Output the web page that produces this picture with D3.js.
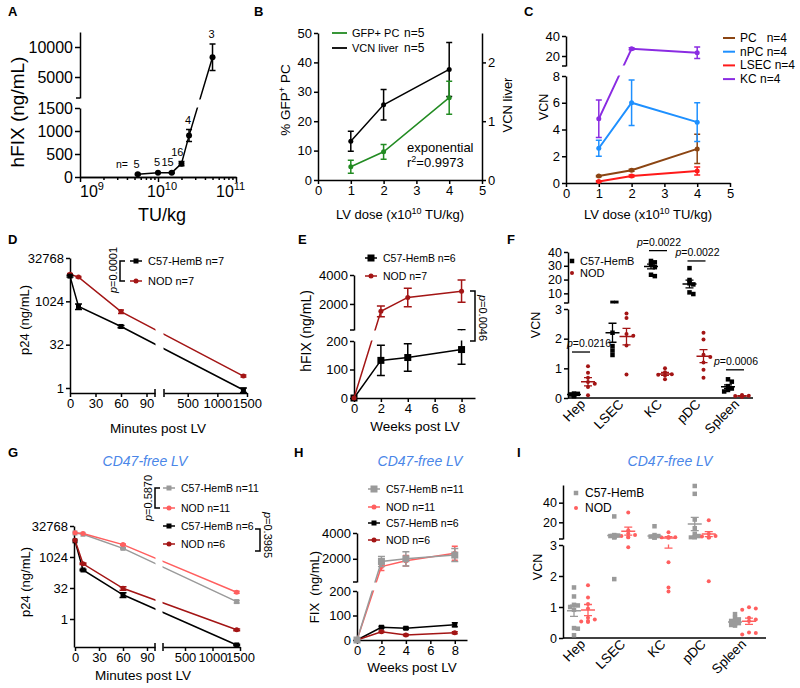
<!DOCTYPE html>
<html lang="en">
<head>
<meta charset="utf-8">
<title>LV figure</title>
<script src="https://d3js.org/d3.v7.min.js"></script>
<style>
  body { margin: 0; background: #fff; }
</style>
</head>
<body>
<div id="fig"></div>
<script>

// ================= DATA =================
// A - dose response
var aDose = [5.5e9, 1e10, 1.5e10, 2e10, 2.5e10, 5e10];
var aFIX = [60, 90, 95, 290, 900, 8300];
var aSem = [15, 10, 15, 45, 130, 2200];
var aN = ["5", "5", "15", "16", "4", "3"];
var aTicksLow = [0, 500, 1000, 1500];
var aTicksHigh = [5000, 10000];

// B - GFP+ PC and VCN liver
var bDose = [1, 2, 4];
var bGFP = [4.5, 9.6, 28], bGFPSem = [2.2, 2.5, 5.6];
var bVCN = [0.66, 1.28, 1.88], bVCNSem = [0.17, 0.26, 0.46];

// C - VCN by cell type
var cDose = [1, 2, 4];
var cNames = ["PC   n=4", "nPC n=4", "LSEC n=4", "KC n=4"];
var cPC = [0.52, 0.95, 2.55], cPCSem = [0.05, 0.08, 1.1];
var cNPC = [2.6, 6.0, 4.55], cNPCSem = [0.6, 1.7, 1.45];
var cLSEC = [0.12, 0.52, 0.9], cLSECSem = [0.05, 0.08, 0.3];
var cKC = [4.8, 27.3, 23.3], cKCSem = [1.4, 1.0, 5.8];

// D - p24 clearance
var dMinutes = [0, 10, 60, 1440];
var dC57 = [7700, 680, 137, 0.85], dC57Sem = [600, 150, 12, 0.15];
var dNOD = [8900, 7100, 450, 2.6], dNODSem = [500, 400, 60, 0.2];

// E - hFIX over weeks
var eWeeks = [0, 2, 4, 8];
var eC57 = [0, 132, 142, 170], eC57Sem = [0, 53, 48, 52];
var eNOD = [0, 1490, 2450, 2880], eNODSem = [0, 370, 640, 770];

// F - VCN per organ
var fCats = ["Hep", "LSEC", "KC", "pDC", "Spleen"];
var fC57 = [
  [0.06, 0.08, 0.1, 0.12, 0.14, 0.15],
  [3.1, 3.1, 2.2, 1.75, 1.6, 1.45],
  [33.5, 32.5, 31, 29, 23.5, 22.5],
  [28.3, 19.7, 17.3, 16.5, 10.7, 9.5],
  [0.63, 0.55, 0.4, 0.32, 0.27, 0.22]
];
var fNOD = [
  [1.07, 0.85, 0.68, 0.54, 0.48, 0.37, 0.09],
  [2.85, 2.7, 2.16, 2.1, 1.77, 0.79],
  [1.0, 0.87, 0.8, 0.78, 0.76, 0.63],
  [2.2, 1.97, 1.46, 1.38, 1.2, 0.95, 0.68],
  [0.1, 0.08, 0.07, 0.06, 0.05, 0.04]
];
var fC57Mean = [0.12, 2.2, 29.5, 16.8, 0.38], fC57Sem = [0.02, 0.32, 1.7, 2.8, 0.06];
var fNODMean = [0.55, 2.07, 0.81, 1.41, 0.07], fNODSem = [0.14, 0.28, 0.05, 0.22, 0.01];
var fSig = [["Hep", "0.0216", 1.55], ["KC", "0.0022", 41], ["pDC", "0.0022", 33.5], ["Spleen", "0.0006", 0.95]];

// G - p24 clearance, CD47-free LV
var gMinutes = [0, 10, 60, 1440];
var gC57a = [15000, 13000, 2700, 7], gC57aSem = [0, 0, 200, 1];
var gNODa = [15500, 14000, 4100, 20], gNODaSem = [0, 0, 300, 2];
var gC57b = [6200, 240, 15, 0.055], gC57bSem = [0, 20, 4, 0.005];
var gNODb = [6600, 480, 31, 0.3], gNODbSem = [0, 40, 6, 0.03];

// H - FIX over weeks, CD47-free LV
var hWeeks = [0, 2, 4, 8];
var hC57a = [0, 1790, 2000, 2290], hC57aSem = [0, 380, 550, 500];
var hNODa = [0, 1400, 1850, 2430], hNODaSem = [0, 300, 400, 550];
var hC57b = [0, 52, 48, 62], hC57bSem = [0, 4, 4, 8];
var hNODb = [0, 34, 20, 30], hNODbSem = [0, 3, 3, 4];

// I - VCN per organ, CD47-free LV
var iCats = ["Hep", "LSEC", "KC", "pDC", "Spleen"];
var iC57 = [
  [1.63, 1.34, 1.07, 1.05, 1.0, 0.91, 0.32, 0.3, 0.09],
  [26, 7, 6.5, 6, 5.5, 5, 4.5, 4, 1.9],
  [16, 7, 6, 5.5, 5, 4.5, 4, 3.8, 3.5],
  [57, 49, 22.8, 14, 8.3, 6, 5, 4.5, 4],
  [0.77, 0.65, 0.6, 0.55, 0.5, 0.48, 0.45, 0.42, 0.4]
];
var iNOD = [
  [1.7, 1.31, 1.1, 0.95, 0.65, 0.6, 0.55, 0.53, 0.52],
  [30, 12, 8.5, 7, 6, 5, 4.5, 2.93],
  [10, 5, 4.8, 4.5, 3.2, 2.44, 1.63, 1.5],
  [22, 8.3, 6, 5.5, 5, 4.5, 4, 1.83],
  [0.99, 0.95, 0.91, 0.65, 0.6, 0.55, 0.18, 0.16, 0.11]
];
var iC57Mean = [0.88, 6.5, 6, 18.3, 0.52], iC57Sem = [0.18, 1.2, 1.0, 6.8, 0.04];
var iNODMean = [0.9, 11, 4.1, 8, 0.54], iNODSem = [0.18, 4, 1.2, 2.5, 0.1];

// ================= HELPERS =================
var FONT = "'Liberation Sans', Arial, Helvetica, sans-serif";
var NODRED = "#a31515", GRAY = "#9a9a9a", PINK = "#ff5f5f", BLUE = "#4a86e8";

var svg = d3.select("#fig").append("svg")
  .attr("width", 800).attr("height", 688)
  .attr("font-family", FONT);
svg.append("rect").attr("width", 800).attr("height", 688).attr("fill", "#fff");
var defs = svg.append("defs");

function text(x, y, s, size, o) {
  o = o || {};
  var t = svg.append("text").attr("font-size", size)
    .attr("text-anchor", o.anchor || "start")
    .attr("fill", o.color || "#000")
    .attr("transform", "translate(" + x + "," + y + ")" + (o.rotate ? " rotate(" + o.rotate + ")" : ""))
    .text(s);
  if (o.bold) t.attr("font-weight", "bold");
  if (o.italic) t.attr("font-style", "italic");
  if (o.pre) t.style("white-space", "pre");
  return t;
}

function pText(x, y, val, size, rot, anchor) {
  var t = svg.append("text").attr("font-size", size).attr("text-anchor", anchor || "middle")
    .attr("transform", "translate(" + x + "," + y + ")" + (rot ? " rotate(" + rot + ")" : ""));
  t.append("tspan").attr("font-style", "italic").text("p");
  t.append("tspan").text("=" + val);
}

function axis(kind, pos, scale, ticks, size, tick) {
  var gen = kind === "left" ? d3.axisLeft(scale) : kind === "right" ? d3.axisRight(scale) : d3.axisBottom(scale);
  gen.tickValues(ticks).tickSizeInner(tick === undefined ? 4 : tick).tickSizeOuter(0).tickPadding(2)
    .tickFormat(function (d) { return d; });
  var g = svg.append("g")
    .attr("transform", kind === "bottom" ? "translate(0," + pos + ")" : "translate(" + pos + ",0)")
    .call(gen);
  g.attr("font-family", FONT).attr("font-size", size);
  g.selectAll(".domain, .tick line").attr("stroke", "#000").attr("stroke-width", 1.5);
  g.selectAll(".tick text").attr("fill", "#000");
  return g;
}

function path(d, color, w) {
  return svg.append("path").attr("d", d).attr("fill", "none").attr("stroke", color || "#000").attr("stroke-width", w || 1.5);
}

// piecewise scale for a broken axis: values up to the cut use lo, others hi
function broken(lo, hi) {
  var cut = lo.domain()[1];
  return function (v) { return v <= cut ? lo(v) : hi(v); };
}

function clip(id, rects) {
  var cp = defs.append("clipPath").attr("id", id);
  rects.forEach(function (r) {
    cp.append("rect").attr("x", r[0]).attr("y", r[1]).attr("width", r[2]).attr("height", r[3]);
  });
  return svg.append("g").attr("clip-path", "url(#" + id + ")");
}

function marker(g, x, y, shape, size, color) {
  if (shape === "sq") {
    g.append("rect").attr("x", x - size / 2).attr("y", y - size / 2)
      .attr("width", size).attr("height", size).attr("fill", color);
  } else {
    g.append("circle").attr("cx", x).attr("cy", y).attr("r", size / 2).attr("fill", color);
  }
}

function errBar(g, px, y1, y2, cap, color, w) {
  g.append("path")
    .attr("d", "M" + px + "," + y1 + "V" + y2 + "M" + (px - cap) + "," + y1 + "H" + (px + cap) +
      "M" + (px - cap) + "," + y2 + "H" + (px + cap))
    .attr("fill", "none").attr("stroke", color).attr("stroke-width", w || 1.5);
}

function series(g, xs, ys, es, sx, sy, o) {
  var pts = xs.map(function (x, i) { return [sx(x), sy(ys[i])]; });
  g.append("path").attr("d", d3.line()(pts)).attr("fill", "none")
    .attr("stroke", o.color).attr("stroke-width", o.width || 1.5);
  if (es) xs.forEach(function (x, i) {
    if (!es[i]) return;
    errBar(g, sx(x), sy(ys[i] - es[i]), sy(ys[i] + es[i]), o.cap || 3, o.color, o.ewidth || 1.5);
  });
  pts.forEach(function (p) { marker(g, p[0], p[1], o.shape, o.size, o.color); });
}

function legendRow(x, y, color, shape, size, label, fs, len) {
  len = len || 12;
  path("M" + x + "," + y + "H" + (x + len), color, 1.5);
  marker(svg, x + len / 2, y, shape, size, color);
  text(x + len + 6, y + 4, label, fs, { pre: true });
}

// column scatter: nudge points sideways a little when they would sit on top of each other
function swarm(g, cx, vals, sy, shape, size, color) {
  var placed = [], step = size * 0.85;
  vals.slice().sort(d3.descending).forEach(function (v) {
    var y = sy(v), x = cx;
    for (var k = 0; k <= 4; k++) {
      x = cx + (k === 0 ? 0 : (k % 2 ? 1 : -1) * Math.ceil(k / 2) * step);
      var hit = placed.some(function (p) { return Math.abs(p[0] - x) < step && Math.abs(p[1] - y) < size * 0.7; });
      if (!hit) break;
      if (k === 4) x = cx;
    }
    placed.push([x, y]);
    marker(g, x, y, shape, size, color);
  });
}

function meanSem(g, cx, m, s, sy, color) {
  g.append("path").attr("d", "M" + (cx - 7) + "," + sy(m) + "H" + (cx + 7))
    .attr("stroke", color).attr("stroke-width", 1.5);
  errBar(g, cx, sy(m - s), sy(m + s), 4, color, 1.3);
}

function title(x, y) {
  text(x, y, "CD47-free LV", 14, { anchor: "middle", italic: true, color: BLUE });
}

// ================= PANEL A =================
text(8, 16, "A", 13, { bold: true });
var aX = d3.scaleLog().domain([1e9, 1e11]).range([80, 236]);
var aLo = d3.scaleLinear().domain([0, 1500]).range([177, 108]);
var aHi = d3.scaleLinear().domain([1500, 12500]).range([98, 32]);
var aY = broken(aLo, aHi);
axis("left", 80, aLo, aTicksLow, 16, 5);
axis("left", 80, aHi, aTicksHigh, 16, 5);
path("M76,98H80");
axis("bottom", 177, aX, [1e9, 1e10, 1e11], 16, 5).selectAll(".tick text").remove();
var aMinor = [];
[1e9, 1e10].forEach(function (dec) { for (var k = 2; k < 10; k++) aMinor.push(k * dec); });
axis("bottom", 177, aX, aMinor, 10, 3).selectAll(".tick text").remove();
[1e9, 1e10, 1e11].forEach(function (v, i) {
  var t = svg.append("text").attr("x", aX(v) + [0, -11, -20][i]).attr("y", 197).attr("font-size", 16);
  t.append("tspan").text("10");
  t.append("tspan").attr("dy", -7).attr("font-size", 11).text(Math.round(Math.log10(v)));
});
text(162, 221, "TU/kg", 18, { anchor: "middle" });
text(24, 112, "hFIX (ng/mL)", 19, { anchor: "middle", rotate: -90 });
var aG = clip("clipA", [[60, 0, 200, 99.5], [60, 107.5, 200, 80]]);
series(aG, aDose, aFIX, aSem, aX, aY, { color: "#000", shape: "c", size: 6, cap: 3 });
text(116, 168, "n=", 10.5);
aDose.forEach(function (d, i) {
  text(aX(d) + 2, aY(aFIX[i] + aSem[i]) - 6, aN[i], 11, { anchor: "end" });
});

// ================= PANEL B =================
text(254, 16, "B", 13, { bold: true });
var bX = d3.scaleLinear().domain([0, 5]).range([318, 482]);
var bYL = d3.scaleLinear().domain([0, 50]).range([180, 33]);
var bYR = d3.scaleLinear().domain([0, 2.5]).range([180, 33]);
axis("left", 318, bYL, [0, 10, 20, 30, 40, 50], 13);
axis("right", 482, bYR, [0, 1, 2], 13);
axis("bottom", 180, bX, [0, 1, 2, 3, 4, 5], 13);
var bG = svg.append("g");
series(bG, bDose, bVCN, bVCNSem, bX, bYR, { color: "#000", shape: "c", size: 5, cap: 3 });
series(bG, bDose, bGFP, bGFPSem, bX, bYL, { color: "#228b22", shape: "c", size: 5, cap: 3 });
path("M332,33H347", "#228b22", 1.8);
path("M332,48H347", "#000", 1.8);
text(352, 37, "GFP+ PC", 11);
text(404, 37, "n=5", 12);
text(352, 52, "VCN liver", 11);
text(404, 52, "n=5", 12);
text(407, 152, "exponential", 13);
var r2 = svg.append("text").attr("x", 407).attr("y", 167).attr("font-size", 13);
r2.append("tspan").text("r");
r2.append("tspan").attr("dy", -5).attr("font-size", 9).text("2");
r2.append("tspan").attr("dy", 5).text("=0.9973");
var bl = svg.append("text").attr("font-size", 13.5).attr("text-anchor", "middle")
  .attr("transform", "translate(290,100) rotate(-90)");
bl.append("tspan").text("% GFP");
bl.append("tspan").attr("dy", -5).attr("font-size", 9).text("+");
bl.append("tspan").attr("dy", 5).text(" PC");
text(512, 105, "VCN liver", 13, { anchor: "middle", rotate: -90 });
function doseLabel(cx) {
  var t = svg.append("text").attr("x", cx).attr("y", 219).attr("font-size", 13).attr("text-anchor", "middle");
  t.append("tspan").text("LV dose (x10");
  t.append("tspan").attr("dy", -5).attr("font-size", 9).text("10");
  t.append("tspan").attr("dy", 5).text(" TU/kg)");
}
doseLabel(400);

// ================= PANEL C =================
text(524, 16, "C", 13, { bold: true });
var cX = d3.scaleLinear().domain([0, 5]).range([566, 730]);
var cLo = d3.scaleLinear().domain([0, 8]).range([183, 76]);
var cHi = d3.scaleLinear().domain([10, 40]).range([66, 36]);
var cY = broken(cLo, cHi);
axis("left", 566, cLo, [0, 2, 4, 6, 8], 13);
axis("left", 566, cHi, [20, 40], 13);
path("M562,66H566");
axis("bottom", 183, cX, [0, 1, 2, 3, 4, 5], 13);
var cG = clip("clipC", [[550, 0, 250, 65.5], [550, 75.5, 250, 130]]);
var cSeries = [[cPC, cPCSem, "#8b4513"], [cNPC, cNPCSem, "#1e90ff"], [cLSEC, cLSECSem, "#ff1a1a"], [cKC, cKCSem, "#8a2be2"]];
cSeries.forEach(function (s, i) {
  series(cG, cDose, s[0], s[1], cX, cY, { color: s[2], shape: "c", size: 5, cap: 3, width: 2 });
  path("M723," + (38 + i * 13.7) + "H735", s[2], 2);
  text(740, 42 + i * 13.7, cNames[i], 12, { pre: true });
});
text(548, 107, "VCN", 12.5, { anchor: "middle", rotate: -90 });
doseLabel(648);

// ================= PANEL D =================
text(8, 244, "D", 13, { bold: true });
var dX1 = d3.scaleLinear().domain([0, 100]).range([70, 155]);
var dX2 = d3.scaleLinear().domain([100, 1500]).range([164, 247]);
var dX = broken(dX1, dX2);
var dY = d3.scaleLog().base(2).domain([0.67, 32768]).range([393, 258]);
axis("left", 70, dY, [1, 32, 1024, 32768], 13);
axis("bottom", 393, dX1, [0, 30, 60, 90], 13);
axis("bottom", 393, dX2, [500, 1000, 1500], 13);
path("M155,389V397M164,389V397");
var dG = clip("clipD", [[60, 240, 95.5, 200], [163.5, 240, 100, 200]]);
series(dG, dMinutes, dNOD, dNODSem, dX, dY, { color: NODRED, shape: "c", size: 5, cap: 3 });
series(dG, dMinutes, dC57, dC57Sem, dX, dY, { color: "#000", shape: "sq", size: 5, cap: 3.5 });
legendRow(130, 261, "#000", "sq", 5, "C57-HemB n=7", 11);
legendRow(130, 281, NODRED, "c", 5, "NOD n=7", 11);
path("M125,261H120V281H125");
pText(117, 270, "0.0001", 11, -90);
text(29, 320, "p24 (ng/mL)", 13, { anchor: "middle", rotate: -90 });
text(158, 433, "Minutes post LV", 13.5, { anchor: "middle" });

// ================= PANEL E =================
text(298, 244, "E", 13, { bold: true });
var eX = d3.scaleLinear().domain([0, 9]).range([354, 475]);
var eLo = d3.scaleLinear().domain([0, 200]).range([398, 341]);
var eHi = d3.scaleLinear().domain([200, 4000]).range([330, 275]);
var eY = broken(eLo, eHi);
axis("left", 354, eLo, [0, 100, 200], 13);
axis("left", 354, eHi, [2000, 4000], 13);
path("M350,330H354");
axis("bottom", 398, eX, [0, 2, 4, 6, 8], 13);
var eG = clip("clipE", [[340, 240, 190, 90.5], [340, 340.5, 190, 80]]);
series(eG, eWeeks, eC57, eC57Sem, eX, eY, { color: "#000", shape: "sq", size: 7, cap: 4 });
series(eG, eWeeks, eNOD, eNODSem, eX, eY, { color: NODRED, shape: "c", size: 5, cap: 4 });
legendRow(365, 258, "#000", "sq", 7, "C57-HemB n=6", 10.5);
legendRow(365, 276, NODRED, "c", 5, "NOD n=7", 10.5);
path("M470,291H475V341H470");
pText(479, 318, "0.0046", 11, 90);
text(311, 331, "hFIX (ng/mL)", 14, { anchor: "middle", rotate: -90 });
text(415, 431, "Weeks post LV", 13.5, { anchor: "middle" });

// ================= PANEL F =================
text(507, 244, "F", 13, { bold: true });
var fX = d3.scalePoint().domain(fCats).range([581, 735]);
var fLo = d3.scaleLinear().domain([0, 3]).range([398, 309]);
var fHi = d3.scaleLinear().domain([3, 40]).range([303, 252]);
var fY = broken(fLo, fHi);
axis("left", 568, fLo, [0, 1, 2, 3], 12.5);
axis("left", 568, fHi, [10, 20, 30, 40], 12.5);
path("M564,303H568");
path("M568,398H753");
fCats.forEach(function (c) {
  text(fX(c) + 5, 405, c, 13.5, { anchor: "end", rotate: -45 });
});
var fG = clip("clipF", [[560, 230, 240, 73.5], [560, 308.5, 240, 100]]);
fCats.forEach(function (c, i) {
  swarm(fG, fX(c) - 7, fC57[i], fY, "sq", 4.5, "#000");
  swarm(fG, fX(c) + 7, fNOD[i], fY, "c", 4, NODRED);
  meanSem(fG, fX(c) - 7, fC57Mean[i], fC57Sem[i], fY, "#000");
  meanSem(fG, fX(c) + 7, fNODMean[i], fNODSem[i], fY, NODRED);
});
fSig.forEach(function (s) {
  var cx = fX(s[0]), y = fY(s[2]);
  path("M" + (cx - 9) + "," + y + "H" + (cx + 9), "#000", 1.3);
  pText(Math.max(cx + 1, 589), y - 5, s[1], 10.5, 0);
});
marker(svg, 572, 261, "sq", 4.5, "#000");
marker(svg, 572, 273, "c", 4, NODRED);
text(580, 265, "C57-HemB", 11);
text(580, 277, "NOD", 11);
text(540, 325, "VCN", 12.5, { anchor: "middle", rotate: -90 });

// ================= PANEL G =================
text(8, 457, "G", 13, { bold: true });
title(145, 466);
var gX1 = d3.scaleLinear().domain([0, 100]).range([75, 155]);
var gX2 = d3.scaleLinear().domain([100, 1500]).range([163, 240]);
var gX = broken(gX1, gX2);
var gY = d3.scaleLog().base(2).domain([0.0437, 32768]).range([647, 526]);
axis("left", 74, gY, [1, 32, 1024, 32768], 13);
axis("bottom", 647, gX1, [0, 30, 60, 90], 13);
axis("bottom", 647, gX2, [500, 1000, 1500], 13);
path("M155,643V651M163,643V651");
var gG = clip("clipG", [[60, 500, 95.5, 160], [162.5, 500, 100, 160]]);
series(gG, gMinutes, gC57a, gC57aSem, gX, gY, { color: GRAY, shape: "sq", size: 5, cap: 3 });
series(gG, gMinutes, gNODa, gNODaSem, gX, gY, { color: PINK, shape: "c", size: 5, cap: 3 });
series(gG, gMinutes, gC57b, gC57bSem, gX, gY, { color: "#000", shape: "sq", size: 5, cap: 3.5 });
series(gG, gMinutes, gNODb, gNODbSem, gX, gY, { color: NODRED, shape: "c", size: 5, cap: 3.5 });
legendRow(163, 488, GRAY, "sq", 5, "C57-HemB n=11", 10.5);
legendRow(163, 508, PINK, "c", 5, "NOD n=11", 10.5);
legendRow(163, 526, "#000", "sq", 5, "C57-HemB n=6", 10.5);
legendRow(163, 544, NODRED, "c", 5, "NOD n=6", 10.5);
path("M160,488H155V508H160");
pText(152, 498, "0.5870", 11, -90);
path("M255,529H260V551H255");
pText(264, 535, "0.3985", 11, 90);
text(30, 582, "p24 (ng/mL)", 13, { anchor: "middle", rotate: -90 });
text(143, 680, "Minutes post LV", 13.5, { anchor: "middle" });

// ================= PANEL H =================
text(294, 457, "H", 13, { bold: true });
title(420, 466);
var hX = d3.scaleLinear().domain([0, 9]).range([357, 467]);
var hLo = d3.scaleLinear().domain([0, 200]).range([640, 591]);
var hHi = d3.scaleLinear().domain([200, 4000]).range([582, 533]);
var hY = broken(hLo, hHi);
axis("left", 357, hLo, [0, 100, 200], 13);
axis("left", 357, hHi, [2000, 4000], 13);
path("M353,582H357");
axis("bottom", 640, hX, [0, 2, 4, 6, 8], 13);
var hG = clip("clipH", [[340, 500, 190, 82.5], [340, 590.5, 190, 80]]);
series(hG, hWeeks, hC57b, hC57bSem, hX, hY, { color: "#000", shape: "sq", size: 5, cap: 3 });
series(hG, hWeeks, hNODb, hNODbSem, hX, hY, { color: NODRED, shape: "c", size: 5, cap: 3 });
series(hG, hWeeks, hNODa, hNODaSem, hX, hY, { color: PINK, shape: "c", size: 5, cap: 3 });
series(hG, hWeeks, hC57a, hC57aSem, hX, hY, { color: GRAY, shape: "sq", size: 7, cap: 3.5 });
legendRow(368, 489, GRAY, "sq", 7, "C57-HemB n=11", 10.5);
legendRow(368, 507, PINK, "c", 5, "NOD n=11", 10.5);
legendRow(368, 523, "#000", "sq", 5, "C57-HemB n=6", 10.5);
legendRow(368, 540, NODRED, "c", 5, "NOD n=6", 10.5);
text(319, 587, "FIX  (ng/mL)", 13, { anchor: "middle", rotate: -90, pre: true });
text(412, 672, "Weeks post LV", 13.5, { anchor: "middle" });

// ================= PANEL I =================
text(517, 457, "I", 13, { bold: true });
title(670, 466);
var iX = d3.scalePoint().domain(iCats).range([581, 742]);
var iLo = d3.scaleLinear().domain([0, 3]).range([638, 545]);
var iHi = d3.scaleLinear().domain([3, 58]).range([539, 485]);
var iY = broken(iLo, iHi);
axis("left", 563, iLo, [0, 1, 2, 3], 12.5);
axis("left", 563, iHi, [20, 40], 12.5);
path("M559,539H563");
path("M563,638H766");
iCats.forEach(function (c) {
  text(iX(c) + 5, 645, c, 13.5, { anchor: "end", rotate: -45 });
});
var iG = clip("clipI", [[555, 470, 245, 69.5], [555, 544.5, 245, 100]]);
iCats.forEach(function (c, i) {
  swarm(iG, iX(c) - 7, iC57[i], iY, "sq", 4.5, GRAY);
  swarm(iG, iX(c) + 7, iNOD[i], iY, "c", 4, PINK);
  meanSem(iG, iX(c) - 7, iC57Mean[i], iC57Sem[i], iY, GRAY);
  meanSem(iG, iX(c) + 7, iNODMean[i], iNODSem[i], iY, PINK);
});
marker(svg, 576, 493, "sq", 4.5, GRAY);
marker(svg, 576, 508, "c", 4, PINK);
text(585, 497, "C57-HemB", 12);
text(585, 512, "NOD", 12);
text(542, 567, "VCN", 12.5, { anchor: "middle", rotate: -90 });

</script>
</body>
</html>
